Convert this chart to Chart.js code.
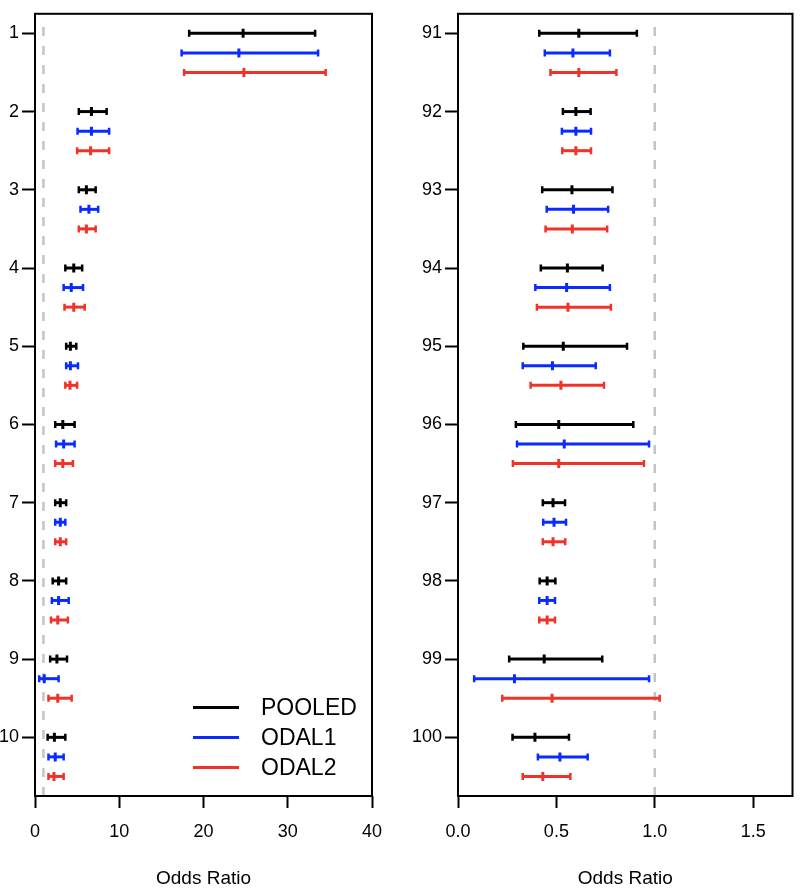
<!DOCTYPE html>
<html><head><meta charset="utf-8">
<script src="https://cdn.jsdelivr.net/npm/chart.js@4.4.1/dist/chart.umd.min.js"></script>
<style>
html,body{margin:0;padding:0;background:#fff;}
#wrap{position:relative;width:800px;height:888px;overflow:hidden;}
.panel{position:absolute;top:0;width:400px;height:888px;}
#legend{position:absolute;left:0;top:0;font-family:"Liberation Sans",Arial,Helvetica,sans-serif;font-size:23px;color:#000;}
.lg-line{position:absolute;left:193px;width:46px;height:3px;}
.lg-text{position:absolute;left:261px;line-height:26px;white-space:nowrap;}
</style></head><body>
<div id="wrap">
<div class="panel" style="left:0"><canvas id="c1" width="400" height="888"></canvas></div>
<div class="panel" style="left:400px"><canvas id="c2" width="400" height="888"></canvas></div>
<div id="legend"></div>
</div>
<script>
// ---------- data ----------
const seriesNames = ['POOLED', 'ODAL1', 'ODAL2'];
const seriesColors = ['#000000', '#0a2bff', '#f03228'];

const leftCategories = ['1','2','3','4','5','6','7','8','9','10'];
const leftTicks = [0, 10, 20, 30, 40];
const leftPooledEst = [24.7, 6.7, 6.1, 4.6, 4.2, 3.3, 3.0, 2.8, 2.6, 2.3];
const leftPooledLo  = [18.3, 5.2, 5.2, 3.6, 3.7, 2.4, 2.4, 2.1, 1.8, 1.5];
const leftPooledHi  = [33.25, 8.5, 7.2, 5.6, 4.9, 4.7, 3.7, 3.7, 3.8, 3.6];
const leftOdal1Est  = [24.2, 6.7, 6.4, 4.3, 4.2, 3.4, 3.0, 2.8, 1.1, 2.4];
const leftOdal1Lo   = [17.4, 5.05, 5.4, 3.4, 3.7, 2.5, 2.4, 2.0, 0.5, 1.6];
const leftOdal1Hi   = [33.6, 8.8, 7.5, 5.7, 5.1, 4.7, 3.6, 4.0, 2.8, 3.4];
const leftOdal2Est  = [24.8, 6.6, 6.1, 4.6, 4.15, 3.3, 3.0, 2.7, 2.7, 2.25];
const leftOdal2Lo   = [17.7, 5.0, 5.2, 3.5, 3.6, 2.4, 2.4, 1.9, 1.6, 1.6];
const leftOdal2Hi   = [34.5, 8.8, 7.2, 5.9, 5.0, 4.5, 3.7, 3.9, 4.35, 3.4];

const rightCategories = ['91','92','93','94','95','96','97','98','99','100'];
const rightTicks = [0, 0.5, 1.0, 1.5];
const rightPooledEst = [0.614, 0.599, 0.579, 0.556, 0.535, 0.512, 0.483, 0.453, 0.438, 0.391];
const rightPooledLo  = [0.413, 0.533, 0.428, 0.421, 0.332, 0.294, 0.431, 0.415, 0.260, 0.277];
const rightPooledHi  = [0.909, 0.674, 0.785, 0.735, 0.859, 0.891, 0.544, 0.495, 0.733, 0.564];
const rightOdal1Est  = [0.584, 0.599, 0.587, 0.552, 0.480, 0.540, 0.488, 0.453, 0.287, 0.518];
const rightOdal1Lo   = [0.441, 0.528, 0.451, 0.393, 0.329, 0.300, 0.433, 0.413, 0.082, 0.406];
const rightOdal1Hi   = [0.772, 0.676, 0.763, 0.772, 0.700, 0.971, 0.549, 0.493, 0.971, 0.659];
const rightOdal2Est  = [0.614, 0.599, 0.581, 0.559, 0.523, 0.512, 0.483, 0.453, 0.478, 0.431];
const rightOdal2Lo   = [0.470, 0.530, 0.445, 0.401, 0.369, 0.279, 0.431, 0.413, 0.225, 0.329];
const rightOdal2Hi   = [0.805, 0.676, 0.758, 0.777, 0.742, 0.945, 0.545, 0.493, 1.025, 0.571];

// ---------- chart ----------
const FONT = '"Liberation Sans", Arial, Helvetica, sans-serif';
const GROUP = 4; // rows per category slot (3 series + gap)

const forestPlugin = {
  id: 'forest',
  beforeDatasetsDraw(chart, args, opts) {
    const {ctx, chartArea: a, scales: {x, y}} = chart;
    ctx.save();
    const rx = x.getPixelForValue(opts.refX);
    ctx.strokeStyle = '#c4c4c4';
    ctx.lineWidth = 2.5;
    ctx.setLineDash([9, 10]);
    ctx.beginPath(); ctx.moveTo(rx, a.bottom); ctx.lineTo(rx, a.top + 6); ctx.stroke();
    ctx.setLineDash([]);
    chart.data.datasets.forEach((ds) => {
      ctx.strokeStyle = ds.borderColor;
      ds.lo.forEach((lo, i) => {
        const py = y.getPixelForValue(ds.data[i].y);
        const x0 = x.getPixelForValue(lo), x1 = x.getPixelForValue(ds.hi[i]);
        ctx.lineWidth = 3;
        ctx.beginPath(); ctx.moveTo(x0, py); ctx.lineTo(x1, py); ctx.stroke();
        ctx.lineWidth = 2.5;
        ctx.beginPath();
        ctx.moveTo(x0, py - 3.5); ctx.lineTo(x0, py + 3.5);
        ctx.moveTo(x1, py - 3.5); ctx.lineTo(x1, py + 3.5);
        ctx.stroke();
      });
    });
    ctx.restore();
  },
  afterDraw(chart) {
    const {ctx, chartArea: a} = chart;
    ctx.save();
    ctx.strokeStyle = '#000';
    ctx.lineWidth = 2;
    ctx.strokeRect(a.left, a.top, a.right - a.left, a.bottom - a.top);
    ctx.restore();
  }
};

function makeChart(id, cats, series, xTicks, xMax, xFmt, refX, yAxisWidth, padRight) {
  const datasets = series.map((s, si) => ({
    label: seriesNames[si],
    data: s.est.map((v, i) => ({x: v, y: i * GROUP + si})),
    lo: s.lo, hi: s.hi,
    borderColor: seriesColors[si], backgroundColor: seriesColors[si],
    pointStyle: 'line', rotation: 90, pointRadius: 4.5, pointHoverRadius: 4.5,
    pointBorderWidth: 3, showLine: false
  }));
  const tickFont = {family: FONT, size: 18};
  return new Chart(document.getElementById(id), {
    type: 'scatter',
    data: {datasets},
    plugins: [forestPlugin],
    options: {
      responsive: false, animation: false, devicePixelRatio: 1,
      layout: {padding: {left: 0, top: 4, right: padRight, bottom: 0}},
      plugins: {legend: {display: false}, tooltip: {enabled: false}, forest: {refX}},
      scales: {
        x: {
          type: 'linear', min: 0, max: xMax,
          afterBuildTicks: (s) => { s.ticks = xTicks.map(v => ({value: v})); },
          afterFit: (s) => { s.height = 92; },
          border: {display: false},
          grid: {display: true, drawOnChartArea: false, drawTicks: true, tickLength: 12, tickWidth: 2, tickColor: '#000'},
          ticks: {font: tickFont, color: '#000', padding: 13, maxRotation: 0, callback: (v) => xFmt(v)},
          title: {display: true, text: 'Odds Ratio', color: '#000', font: {family: FONT, size: 19, lineHeight: 1}, padding: {top: 0, bottom: 0}}
        },
        y: {
          type: 'linear', min: -1, max: (cats.length - 1) * GROUP + 3, reverse: true,
          afterBuildTicks: (s) => { s.ticks = cats.map((c, i) => ({value: i * GROUP})); },
          afterFit: (s) => { s.width = yAxisWidth; },
          border: {display: false},
          grid: {display: true, drawOnChartArea: false, drawTicks: true, tickLength: 13, tickWidth: 2, tickColor: '#000'},
          ticks: {font: tickFont, color: '#000', padding: 3, callback: (v, i) => cats[i]}
        }
      }
    }
  });
}

makeChart('c1', leftCategories, [
  {est: leftPooledEst, lo: leftPooledLo, hi: leftPooledHi},
  {est: leftOdal1Est, lo: leftOdal1Lo, hi: leftOdal1Hi},
  {est: leftOdal2Est, lo: leftOdal2Lo, hi: leftOdal2Hi}
], leftTicks, 40, (v) => String(v), 1, 35, 28);

makeChart('c2', rightCategories, [
  {est: rightPooledEst, lo: rightPooledLo, hi: rightPooledHi},
  {est: rightOdal1Est, lo: rightOdal1Lo, hi: rightOdal1Hi},
  {est: rightOdal2Est, lo: rightOdal2Lo, hi: rightOdal2Hi}
], rightTicks, 1.7, (v) => v.toFixed(1), 1, 58, 4);

// legend (HTML text)
const legendEl = document.getElementById('legend');
const legendY = [707, 737, 767];
seriesNames.forEach((n, i) => {
  const ln = document.createElement('div');
  ln.className = 'lg-line';
  ln.style.top = (legendY[i] - 1.5) + 'px';
  ln.style.background = seriesColors[i];
  legendEl.appendChild(ln);
  const tx = document.createElement('div');
  tx.className = 'lg-text';
  tx.style.top = (legendY[i] - 13) + 'px';
  tx.textContent = n;
  legendEl.appendChild(tx);
});
</script>
</body></html>
